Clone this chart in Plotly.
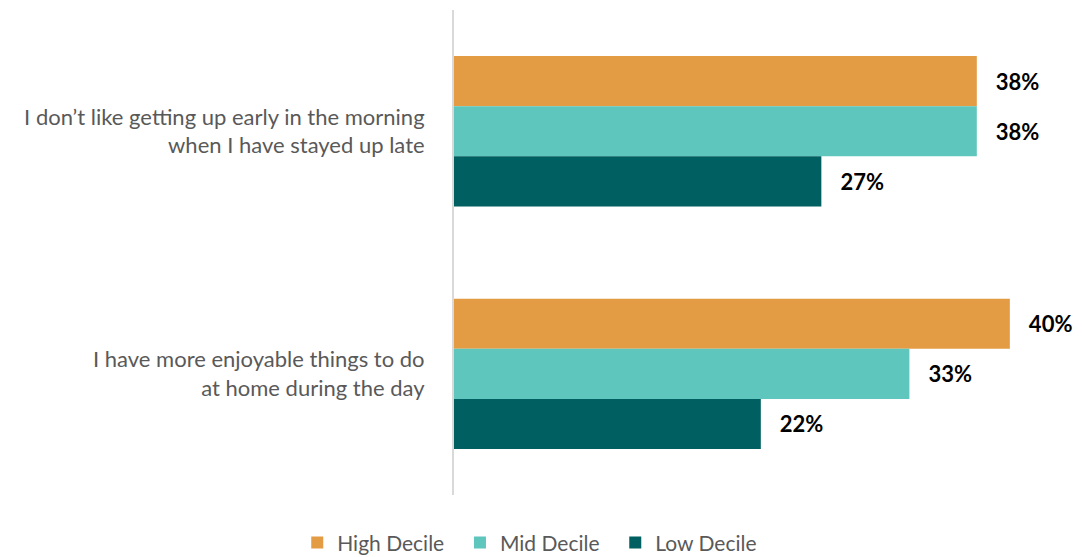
import plotly.graph_objects as go

categories = [
    "I don’t like getting up early in the morning<br>when I have stayed up late",
    "I have more enjoyable things to do<br>at home during the day",
]
series_names = ["High Decile", "Mid Decile", "Low Decile"]
legend_pad = ["\u00a0\u00a0", "\u00a0\u00a0", ""]
high_values = [38.0, 40.4]
mid_values = [38.0, 33.1]
low_values = [26.7, 22.3]
colors = ["#E39B44", "#5EC6BD", "#005F60"]

all_values = [high_values, mid_values, low_values]

fig = go.Figure()
for name, pad, vals, col in zip(series_names, legend_pad, all_values, colors):
    fig.add_trace(go.Bar(
        y=categories, x=vals, name=name + pad, orientation="h",
        marker=dict(color=col, line=dict(width=0)),
        text=[f"{round(v)}%" for v in vals],
        textposition="outside",
        texttemplate="   %{text}",
        textfont=dict(family="Lato", size=22, color="#000000", weight="bold"),
        cliponaxis=False,
        hoverinfo="skip",
    ))

fig.update_layout(
    width=1085, height=557,
    barmode="group", bargap=0.38, bargroupgap=0,
    plot_bgcolor="white", paper_bgcolor="white",
    margin=dict(l=454, r=5, t=10, b=5, autoexpand=False),
    font=dict(family="Lato", size=21, color="#595959"),
    showlegend=True,
    legend=dict(orientation="h", x=0.121, xanchor="center", y=0.017, yanchor="middle",
                font=dict(family="Lato", size=21, color="#595959"),
                traceorder="normal", itemwidth=30, bgcolor="rgba(0,0,0,0)"),
    xaxis=dict(range=[0, 45.5], showgrid=False, zeroline=False, showticklabels=False,
               showline=False, automargin=False),
    yaxis=dict(autorange="reversed", showline=True, linecolor="#D9D9D9", linewidth=2,
               domain=[0.105, 1.0], automargin=False,
               ticks="", ticklabelstandoff=23, showgrid=False,
               tickfont=dict(family="Lato", size=22, color="#595959")),
)

fig.write_html("out.html",
               config={"displayModeBar": False},
               post_script="document.body.style.margin='0px';document.body.style.overflow='hidden';")
